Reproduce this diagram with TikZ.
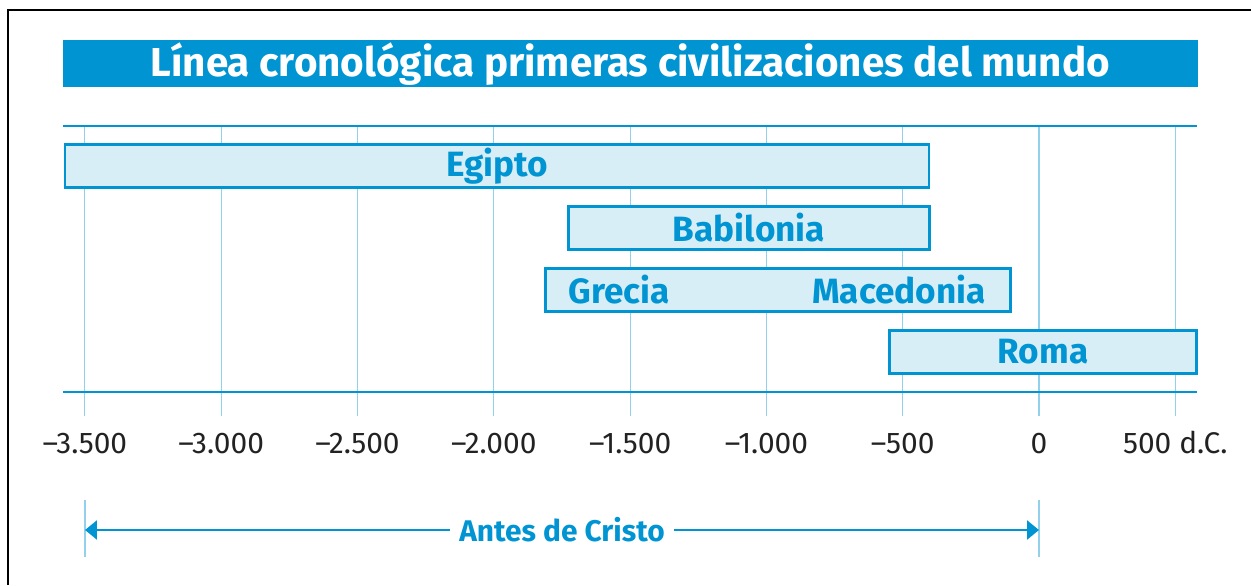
\documentclass[tikz,border=0pt]{standalone}
\usepackage{fontspec}
\setmainfont{Fira Sans}
\usetikzlibrary{arrows.meta}
\definecolor{cblue}{HTML}{0095D2}
\definecolor{cfill}{HTML}{D8EEF7}
\definecolor{cgrid}{HTML}{92D0EC}
\definecolor{ctext}{HTML}{222222}
\begin{document}
\begin{tikzpicture}[x=0.02cm,y=-0.02cm]
	\tikzstyle{Bar} = [rectangle, draw=cblue, line width=1.2pt, fill=cfill, inner sep=0pt, minimum height=0.86cm, text=cblue, font=\bfseries\fontsize{20}{20}\selectfont]
	\tikzstyle{Label} = [font=\bfseries\fontsize{20}{20}\selectfont, text=cblue]
	\tikzstyle{grid} = [draw=cgrid, line width=0.6pt]
	\tikzstyle{rule} = [draw=cblue, line width=1.3pt]
	\tikzstyle{arrow} = [draw=cblue, line width=1.3pt, -{Triangle[length=0.24cm, width=0.38cm]}]
	
	\useasboundingbox (0,0) rectangle (1251,585);
	\draw [black, line width=1.5pt] (8,585) -- (8,10) -- (1251,10);
	
	% title
	\fill [cblue] (63,40) rectangle (1198,87);
	\node (title) [text=white, inner sep=0pt, anchor=base, font=\bfseries\fontsize{23}{23}\selectfont] at (630.5,76) {Línea cronológica primeras civilizaciones del mundo};
	
	% grid and years
	\foreach \yr/\lab [count=\i] in {-3500/{–3.500}, -3000/{–3.000}, -2500/{–2.500}, -2000/{–2.000}, -1500/{–1.500}, -1000/{–1.000}, -500/{–500}, 0/{0}, 500/{500 d.C.}} {
		\pgfmathsetmacro{\x}{1039+\yr*0.2726}
		\draw [grid] (\x,126) -- (\x,416);
		\node (t\i) [text=ctext, anchor=base, font=\fontsize{17}{17}\selectfont] at (\x,453) {\lab};
	}
	\draw [rule] (63,126) -- (1197,126);
	\draw [rule] (63,392) -- (1197,392);
	
	% civilizations
	\node (egipto) [Bar, minimum width=17.28cm] at (497,166) {Egipto};
	\node (babilonia) [Bar, minimum width=7.22cm] at (749,228) {Babilonia};
	\node (grecia) [Bar, minimum width=9.3cm] at (778,290) {};
	\node (greciaL) [Label] at (619,290) {Grecia};
	\node (macedonia) [Label] at (899,290) {Macedonia};
	\node (roma) [Bar, minimum width=6.14cm] at (1043,352) {Roma};
	
	% antes de cristo
	\draw [grid] (85,500) -- (85,557);
	\draw [grid] (1039,500) -- (1039,557);
	\coordinate (ac0) at (85,530);
	\coordinate (ac1) at (1039,530);
	\node (antes) [Label, inner xsep=0.17cm, font=\bfseries\fontsize{17}{17}\selectfont] at (562,530) {Antes de Cristo};
	\draw [arrow] (antes.west) -- (ac0);
	\draw [arrow] (antes.east) -- (ac1);
\end{tikzpicture}
\end{document}
